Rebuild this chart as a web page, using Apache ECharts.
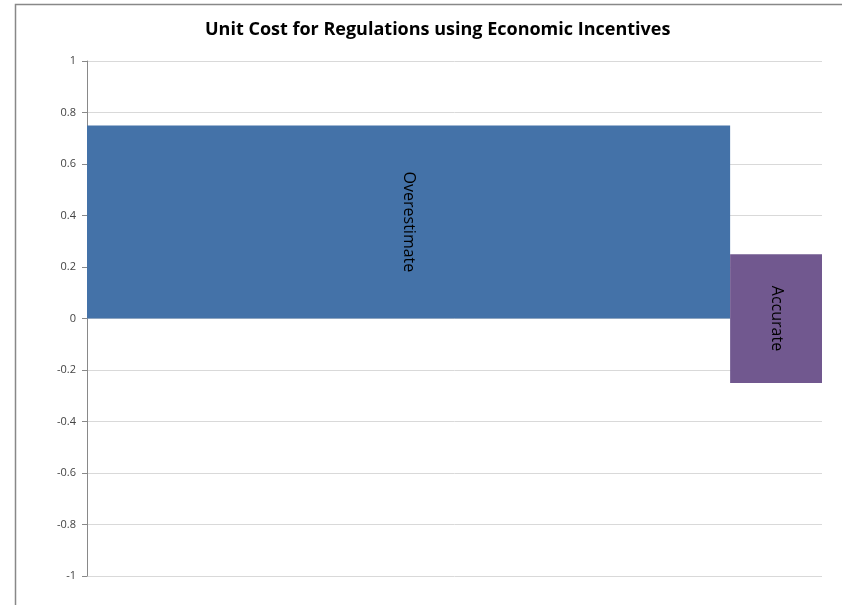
<!DOCTYPE html>
<html>
<head>
<meta charset="utf-8">
<style>
  html, body { margin: 0; padding: 0; background: #fff; }
  #chart { width: 842px; height: 605px; }
</style>
<script src="https://cdn.jsdelivr.net/npm/echarts@6/dist/echarts.min.js"></script>
</head>
<body>
<div id="chart"></div>
<script>
var categories = ['Overestimate', 'Accurate'];
var shares = [0.875, 0.125];      // width of each block, share of the axis
var lowValues = [0, -0.25];
var highValues = [0.75, 0.25];
var barColors = ['#4472a8', '#71588f'];

var chart = echarts.init(document.getElementById('chart'));

// build [start, end, low, high, index] rows from the arrays
var rows = [];
var start = 0;
for (var i = 0; i < categories.length; i++) {
    rows.push([start, start + shares[i], lowValues[i], highValues[i], i]);
    start += shares[i];
}

function renderBlock(params, api) {
    var p0 = api.coord([api.value(0), api.value(3)]);
    var p1 = api.coord([api.value(1), api.value(2)]);
    var idx = api.value(4);
    return {
        type: 'rect',
        shape: { x: p0[0], y: p0[1], width: p1[0] - p0[0], height: p1[1] - p0[1] },
        style: { fill: barColors[idx] },
        textContent: {
            style: {
                text: categories[idx],
                fill: '#000',
                fontFamily: 'Open Sans',
                fontSize: 16
            }
        },
        textConfig: { position: 'inside', rotation: -Math.PI / 2 }
    };
}

var option = {
    animation: false,
    title: {
        text: 'Unit Cost for Regulations using Economic Incentives',
        left: 200,
        top: 16,
        textStyle: {
            fontFamily: 'Open Sans',
            fontSize: 18,
            fontWeight: 'bold',
            color: '#000'
        }
    },
    grid: { left: 87, right: 20, top: 61, bottom: 29 },
    xAxis: {
        type: 'value',
        min: 0,
        max: 1,
        show: false
    },
    yAxis: {
        type: 'value',
        min: -1,
        max: 1,
        interval: 0.2,
        axisLine: { show: true, lineStyle: { color: '#898989' } },
        axisTick: { show: true, length: 5, lineStyle: { color: '#898989' } },
        axisLabel: {
            color: '#444',
            fontFamily: 'Open Sans',
            fontSize: 11,
            margin: 11,
            formatter: function (v) { return String(Math.round(v * 10) / 10); }
        },
        splitLine: { lineStyle: { color: '#d9d9d9' } }
    },
    graphic: [{
        type: 'rect',
        shape: { x: 15.5, y: 4.5, width: 900, height: 700 },
        style: { fill: 'none', stroke: '#888', lineWidth: 1.5 },
        silent: true
    }],
    series: [{
        type: 'custom',
        renderItem: renderBlock,
        encode: { x: [0, 1], y: [2, 3] },
        data: rows
    }]
};

chart.setOption(option);
</script>
</body>
</html>
